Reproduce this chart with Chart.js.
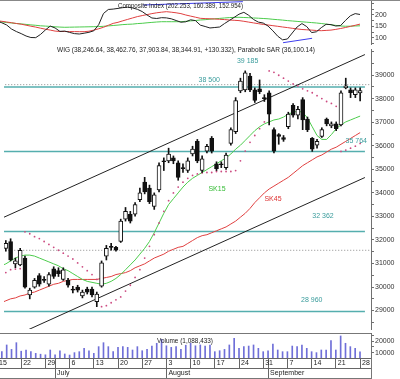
<!DOCTYPE html>
<html>
<head>
<meta charset="utf-8">
<title>WIG</title>
<script src="https://cdn.jsdelivr.net/npm/chart.js@4.4.1/dist/chart.umd.min.js"></script>
<style>
  html, body { margin:0; padding:0; background:#ffffff; }
  #wrap { position:relative; width:400px; height:379px; overflow:hidden; background:#fff; }
  #wrap canvas { position:absolute; left:0; }
</style>
</head>
<body>
<div id="wrap">
  <canvas id="cComp" width="400" height="45" style="top:0px"></canvas>
  <canvas id="cPrice" width="400" height="288" style="top:45px"></canvas>
  <canvas id="cVol" width="400" height="46" style="top:333px"></canvas>
</div>
<script>
// ---- DATA (index = trading day, 0 = Mon 15 June 2009 ... 75 = Mon 28 Sept 2009) ----
const open  = [null,31644,31934,30983,30942,31231,29661,29992,30488,30322,30116,30777,30694,30322,30281,29909,29992,29620,29909,29909,29372,30033,31314,31727,31686,31934,32884,33091,33091,33710,34454,34206,33421,34124,35363,35363,35487,35281,35074,34950,35653,36190,34950,35776,36314,35239,35239,35074,36107,36603,38338,38380,38960,38380,38421,38049,38256,36686,36479,36355,36809,37718,37305,37966,37140,36314,36025,36396,37140,36850,36933,36892,38462,38380,38173,38246.64];
const high  = [null,31975,32050,31231,31644,31314,29950,30364,30570,30446,30611,30860,30818,30818,30364,30033,30074,29868,29992,29992,29785,31107,31768,31851,31727,32884,33380,33215,33587,34206,34661,34330,34000,35281,35487,35900,35570,35363,35239,35487,35983,36272,35570,36066,36396,35322,35322,35694,36768,38049,38875,39185,39082,38462,38800,38173,38338,36768,36520,36438,37429,37800,37680,38049,37223,36355,36272,36768,37182,37016,37016,38338,38875,38462,38462,38462.76];
const low   = [null,31521,31107,30818,30901,29950,29496,29950,30033,30198,30033,30364,30446,30281,29992,29744,29785,29537,29702,29578,29165,29992,31149,31562,31521,31893,32801,32719,33008,33628,33958,33545,33297,34041,34950,35281,35239,34537,34867,34867,35570,35281,34867,35694,35694,34950,35074,34992,36025,36520,38256,38297,38297,37842,38214,37884,36892,35694,36066,36190,36727,37223,37140,36686,36603,35764,35900,36355,36850,36768,36644,36850,38421,38049,38049,37903.84];
const close = [null,31851,31149,31107,31562,29992,29868,30281,30116,30281,30529,30446,30570,30735,30074,29868,29868,29785,29785,29661,29702,31025,31644,31686,31562,32801,33215,32801,33504,34000,34041,33628,33917,35157,35322,35653,35363,34661,35033,35363,35859,35363,35446,35983,35776,35033,35198,35611,36686,37925,38752,39100,38380,37925,38297,38008,37347,35776,36396,36272,37347,37305,37553,37099,36686,35859,36190,36686,36933,36933,36727,38256,38545,38256,38380,38344.91];
const volume = [null,11100,16700,13000,18600,11500,12500,11100,9700,9000,8500,12500,8500,11900,9200,8300,10300,11100,13900,11900,9700,15300,18600,15300,11100,14700,15300,14700,12500,15300,11900,13000,15800,18100,21400,16000,14700,15300,13000,16500,18100,16000,16700,15800,16700,11100,11900,13000,16700,22200,13900,15300,15800,16700,13900,11100,11900,17500,12500,11100,11100,15800,15300,16700,13900,11100,10300,12500,12500,20300,12500,24200,18100,15300,13900,10884];
const sk15 = [30901,30983,31107,31231,31314,31355,31355,31314,31231,31149,31066,30983,30901,30777,30694,30570,30446,30322,30240,30198,30157,30116,30157,30240,30364,30529,30735,30942,31149,31397,31644,31934,32306,32719,33132,33504,33752,34000,34248,34454,34620,34743,34867,34991,35115,35239,35363,35487,35653,35859,36025,36231,36438,36644,36809,36933,37016,37099,37140,37223,37347,37429,37470,37429,37182,36809,36438,36272,36272,36479,36727,36892,37016,37099,37182,37264];
const sk45 = [29330,29413,29496,29537,29620,29661,29744,29785,29868,29950,30033,30116,30157,30240,30281,30322,30322,30322,30322,30322,30322,30364,30405,30446,30529,30570,30611,30694,30818,30901,30983,31107,31231,31314,31397,31521,31603,31686,31727,31851,31975,32099,32182,32223,32306,32388,32471,32553,32678,32801,32967,33132,33339,33587,33793,34000,34165,34289,34413,34537,34661,34826,34991,35157,35281,35405,35529,35611,35735,35859,35942,36066,36190,36314,36438,36562];
const sar = [30488,30611,30735,30760,30777,32347,32264,32140,32058,31934,31810,31686,31562,31438,31314,31190,31025,30859,30694,30529,30322,29165,29207,29331,29455,29578,29826,30074,30405,30735,31231,31727,32223,32719,33215,33669,34000,34248,34454,34620,34743,34805,34847,34867,34867,34909,34909,34909,34909,34950,35363,35776,36149,36438,36727,37016,39185,39123,39000,38875,38752,38628,38545,38421,38338,38256,38132,38008,37884,37800,37677,35764,35818,35900,35983,36100.14];
const composite = [174,166,156.5,139,128,119,108.7,102,101.5,115.6,135,151.7,143.5,128.7,130,124.3,119,117.3,120.8,124.7,131.3,157.4,206.5,224,225.7,228.7,232,234,230.7,224.8,214.8,200,187,184.8,188.3,187.4,183.5,176,168.7,170.4,179,175.6,156,150,143.5,145.6,147.8,162.6,176,189.6,203.5,211.7,198.7,180.4,169,165,152,131.3,107.8,92,95.6,121.7,147.8,162.6,149.5,123.4,127,145,159.5,158.2,152,154.3,176.5,196.5,206,202.253];
const compositeAvgA = [174.8,172.6,169.5,166.5,163,160,155.6,151.3,147.4,142.6,138.2,134.3,130,128.2,128.2,127.8,127.8,127.4,127.4,129.5,134.3,140,146.5,155.2,163.5,168.2,174.8,180.9,187,193,197.4,201.7,206,209.6,212.2,214.4,212.2,209.6,206,200,195.2,190.4,185.6,184.3,183.5,182.6,181.3,180,178.3,176.9,175.6,172.6,169.1,165.6,162.2,159.1,156.5,153.5,150.8,147.8,145.2,142.1,139.5,136.9,135.6,134.3,132.6,131.7,133,134.3,137.4,141.3,145.6,150.4,155.2,160.389];
const compositeAvgB = [171.3,170,167.4,165.2,163,161.3,159.1,156.9,155.2,153,151.7,150.4,148.7,147.4,146.5,147,147.4,147.8,148.2,148.7,149.1,149.5,150.8,152.6,154.3,156.1,158.2,159.5,160.4,162.6,163.9,166,167.8,169.5,170.8,170.8,170.8,170.8,170.8,172.6,174.3,176,178.3,179.6,181.7,183.5,185.2,187,188.7,189.6,190,189.1,188.3,187,186.1,184.8,183.5,181.3,179.6,177.8,175.6,173.9,172.2,170.4,168.7,167,165.2,163,160.4,157.4,154.8,152.2,151,151.3,152.2,152.954];
const divergenceDays1 = [30.2, 50.8];
const divergenceVals1 = [243.5, 257.9];
const divergenceDays2 = [59.1, 65.1];
const divergenceVals2 = [79.5, 98.6];
const levelValues = [38500, 35764, 32362, 28960];
const levelDays = [-1, 76];
const dottedValues = [38600, 31560];
const dottedDays = [-1, 77];
const channelDays = [0, 76];
const channelUpper = [32910, 39878];
const channelLower = [27661, 34653];
const weekTickDay = [0,5,10,15,20,25,30,35,40,45,50,55,60,65,70,75];
const weekTickLabel = ['15','22','29','6','13','20','27','3','10','17','24','31','7','14','21','28'];
const monthTickDay = [12,35,56];
const monthTickLabel = ['July','August','September'];
const compTicks = [75,100,125,150,175,200,225,250];
const compTickLabels = [100,150,200];
const priceTicks = [28500,29000,29500,30000,30500,31000,31500,32000,32500,33000,33500,34000,34500,35000,35500,36000,36500,37000,37500,38000,38500,39000,39500,40000];
const priceTickLabels = [29000,30000,31000,32000,33000,34000,35000,36000,37000,38000,39000];
const volTicks = [10000,15000,20000,25000];
const volTickLabels = [10000,20000];
const compTitle = 'Composite Index (202.253, 160.389, 152.954)';
const wigTitle = 'WIG (38,246.64, 38,462.76, 37,903.84, 38,344.91, +130.332), Parabolic SAR (36,100.14)';
const volTitle = 'Volume (1,088,433)';
const priceNotes = [
  {text:'38 500', day:43.5, value:38793, kind:'level'},
  {text:'39 185', day:51.5, value:39620, kind:'level'},
  {text:'35 764', day:74.2, value:36190, kind:'level'},
  {text:'32 362', day:67.25, value:33008, kind:'level'},
  {text:'28 960', day:64.9, value:29455, kind:'level'},
  {text:'SK15', day:45.1, value:34165, kind:'sk15'},
  {text:'SK45', day:56.8, value:33752, kind:'sk45'}
];

// ---- STYLE ----
const FONT = "'Liberation Sans', Arial, sans-serif";
Chart.defaults.font.family = FONT;
Chart.defaults.font.size = 7;
Chart.defaults.color = '#333';
const X_MIN = 0.62, X_MAX = 77.27, AXIS_W = 29;
const C = {teal:'#55aeae', tealText:'#3a9c9c', green:'#4ccc4c', red:'#e04040', sar:'#cc4a80',
           axis:'#707070', vol:'#6f6fd8', blue:'#3d3dee', dotted:'#8a8a8a'};
const noPad = s => { s.paddingTop = 0; s.paddingBottom = 0; s.paddingLeft = 0; s.paddingRight = 0; };
const hiddenX = () => ({type:'linear', min:X_MIN, max:X_MAX, display:false, offset:false, grid:{offset:false}});
function rightY(min, max, tickVals, labels) {
  return {
    type:'linear', position:'right', min, max, beginAtZero:false,
    afterBuildTicks: s => { s.ticks = tickVals.filter(v => v >= min && v <= max).map(v => ({value:v})); },
    afterFit: s => { s.width = AXIS_W; noPad(s); },
    border:{display:true, color:C.axis, width:1},
    grid:{drawOnChartArea:false, drawTicks:true, tickLength:3, color:C.axis},
    ticks:{padding:1, autoSkip:false, color:'#333', font:{size:7, family:FONT},
           callback: v => labels.includes(Math.round(v)) ? String(Math.round(v)) : ''}
  };
}
const pts = (arr) => arr.map((v, i) => ({x:i, y:v}));
const pairs = (xs, ys) => xs.map((x, k) => ({x, y:ys[k]}));
const line = (data, color, width, order, extra) => Object.assign({type:'line', data, borderColor:color,
  borderWidth:width, pointRadius:0, tension:0, fill:false, order}, extra || {});
const common = {responsive:false, maintainAspectRatio:false, animation:false, events:[],
  layout:{padding:0}, plugins:{legend:{display:false}, tooltip:{enabled:false}}};

// ---- COMPOSITE PANEL ----
new Chart(document.getElementById('cComp'), {
  type:'line',
  data:{datasets:[
    line(pairs(divergenceDays1, divergenceVals1), C.blue, 1, 1),
    line(pairs(divergenceDays2, divergenceVals2), C.blue, 1, 1),
    line(pts(composite), '#222', 1, 2),
    line(pts(compositeAvgA), C.red, 1, 3),
    line(pts(compositeAvgB), C.green, 1, 4)
  ]},
  options:Object.assign({}, common, {
    scales:{x:hiddenX(), y:rightY(69.5, 265.2, compTicks, compTickLabels)}
  }),
  plugins:[{id:'compText', afterDatasetsDraw(chart){
    const ctx = chart.ctx; ctx.save();
    ctx.strokeStyle = '#888'; ctx.lineWidth = 1;
    ctx.beginPath(); ctx.moveTo(0, 0.5); ctx.lineTo(400, 0.5); ctx.stroke();
    ctx.fillStyle = '#222'; ctx.font = '7px ' + FONT; ctx.textBaseline = 'middle'; ctx.textAlign = 'left';
    ctx.fillText(compTitle, 118, 6, 125);
    ctx.restore();
  }}]
});

// ---- PRICE PANEL ----
const priceDatasets = [];
levelValues.forEach(v => priceDatasets.push(line(pairs(levelDays, [v, v]), C.teal, 1.5, 20)));
dottedValues.forEach(v => priceDatasets.push(line(pairs(dottedDays, [v, v]), C.dotted, 1, 19, {borderDash:[1,2]})));
priceDatasets.push(line(pairs(channelDays, channelUpper), '#222', 1, 18));
priceDatasets.push(line(pairs(channelDays, channelLower), '#222', 1, 18));
priceDatasets.push(line(pts(sk45), C.red, 1, 12));
priceDatasets.push(line(pts(sk15), C.green, 1, 11));
priceDatasets.push({type:'line', data:pts(sar), showLine:false, pointRadius:0.9, pointBorderWidth:0,
  pointBackgroundColor:C.sar, borderColor:C.sar, order:10});
const candleDays = open.map((v, i) => i).filter(i => open[i] != null);
priceDatasets.push({type:'bar', data:candleDays.map(i => ({x:i, y:[low[i], high[i]]})),
  backgroundColor:'#111', barThickness:1, grouped:false, order:3, borderWidth:0});
priceDatasets.push({type:'bar', data:candleDays.map(i => ({x:i, y:[open[i], close[i]]})),
  backgroundColor:candleDays.map(i => close[i] >= open[i] ? '#ffffff' : '#111111'),
  borderColor:'#111', borderWidth:1, borderSkipped:false, barThickness:4, grouped:false, order:2});

new Chart(document.getElementById('cPrice'), {
  type:'bar',
  data:{datasets:priceDatasets},
  options:Object.assign({}, common, {
    scales:{x:hiddenX(), y:rightY(28215, 40115, priceTicks, priceTickLabels)}
  }),
  plugins:[{id:'priceText', afterDatasetsDraw(chart){
    const {ctx, scales:{x, y}} = chart; ctx.save();
    ctx.font = '7px ' + FONT; ctx.textBaseline = 'middle'; ctx.textAlign = 'center';
    priceNotes.forEach(n => {
      ctx.fillStyle = n.kind === 'sk15' ? '#33bb33' : n.kind === 'sk45' ? '#dd3030' : C.tealText;
      ctx.fillText(n.text, x.getPixelForValue(n.day), y.getPixelForValue(n.value));
    });
    ctx.fillStyle = '#222'; ctx.textAlign = 'left';
    ctx.fillText(wigTitle, 57, 5, 258);
    ctx.restore();
  }}]
});

// ---- VOLUME PANEL + DATE AXIS ----
const xTickDays = weekTickDay.concat(monthTickDay.filter(d => !weekTickDay.includes(d)));
new Chart(document.getElementById('cVol'), {
  type:'bar',
  data:{datasets:[{data:candleDays.map(i => ({x:i, y:volume[i]})), backgroundColor:C.vol,
    barThickness:1, grouped:false, borderWidth:0}]},
  options:Object.assign({}, common, {
    scales:{
      x:{type:'linear', min:X_MIN, max:X_MAX, position:'bottom', offset:false, weight:0,
        afterBuildTicks: s => { s.ticks = xTickDays.map(v => ({value:v})); },
        afterFit: s => { s.height = 10; noPad(s); },
        border:{display:true, color:'#666'},
        grid:{offset:false, drawOnChartArea:false, drawTicks:true, tickLength:10, color:'#666'},
        ticks:{align:'start', labelOffset:2, padding:-9.5, autoSkip:false, maxRotation:0, minRotation:0,
          color:'#222', font:{size:7, family:FONT},
          callback: v => { const k = weekTickDay.indexOf(v); return k >= 0 ? weekTickLabel[k] : ''; }}
      },
      x2:{type:'linear', min:X_MIN, max:X_MAX, position:'bottom', offset:false, weight:1,
        afterBuildTicks: s => { s.ticks = monthTickDay.map(v => ({value:v})); },
        afterFit: s => { s.height = 11; noPad(s); },
        border:{display:true, color:'#666'},
        grid:{offset:false, drawOnChartArea:false, drawTicks:true, tickLength:11, color:'#666'},
        ticks:{align:'start', labelOffset:2, padding:-10.5, autoSkip:false, maxRotation:0, minRotation:0,
          color:'#222', font:{size:7, family:FONT},
          callback: v => { const k = monthTickDay.indexOf(v); return k >= 0 ? monthTickLabel[k] : ''; }}
      },
      y:rightY(5833, 26667, volTicks, volTickLabels)
    }
  }),
  plugins:[{id:'volText', afterDraw(chart){
    const ctx = chart.ctx; const r = chart.chartArea.right; ctx.save();
    ctx.strokeStyle = '#777'; ctx.lineWidth = 1;
    ctx.beginPath(); ctx.moveTo(0, 0.5); ctx.lineTo(r, 0.5); ctx.stroke();
    ctx.beginPath(); ctx.moveTo(0, 45.5); ctx.lineTo(r, 45.5); ctx.stroke();
    ctx.beginPath(); ctx.moveTo(Math.round(r) + 0.5, 25); ctx.lineTo(Math.round(r) + 0.5, 46); ctx.stroke();
    ctx.fillStyle = '#222'; ctx.font = '7px ' + FONT; ctx.textBaseline = 'middle'; ctx.textAlign = 'left';
    ctx.fillText(volTitle, 157, 8, 56);
    ctx.restore();
  }}]
});
</script>
</body>
</html>
